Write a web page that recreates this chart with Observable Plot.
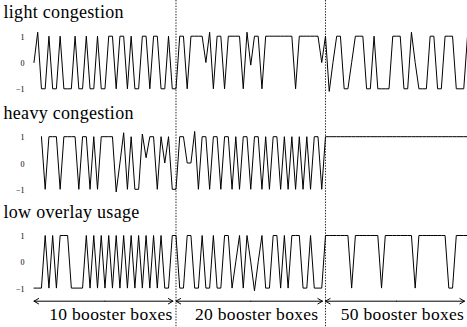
<!DOCTYPE html>
<html><head><meta charset="utf-8">
<script src="https://cdn.jsdelivr.net/npm/d3@7"></script>
<script src="https://cdn.jsdelivr.net/npm/@observablehq/plot@0.6"></script>
<style>
body{margin:0;background:#fff;}
#chart svg{display:block;}
#chart svg, #chart svg text{font-family:"Liberation Serif","Times New Roman","DejaVu Serif",serif !important;}
#chart svg g[aria-label="text"] text{letter-spacing:0.3px;}
</style>
</head><body><div id="chart"></div>
<script>
const panelTitles = ["light congestion", "heavy congestion", "low overlay usage"];
const yTickValues = [1, 0, -1];
const yTickLabels = ["1", "0", "\u22121"];
const phaseBounds = [2, 40, 80, 118];
const phaseLabels = ["10 booster boxes", "20 booster boxes", "50 booster boxes"];

const lightStart = 2;
const lightValues = [
  0, 1.15, -1, -1, 1, -1, -1, 1, -1, -1, -1, 1, -1, -1, 1, -1, -1, 1, -1, -1, 1, 1, -1, 1, 1, -1, 1, -1, -1, 1, 1, -1, 1, 1, -1, -1, 1, -1, -1,
  1, 1, -1, 1, 1, 1, 1, 0, 1.15, -1, 1, 1, -1, 1, 1, 1, 1, -1, 1.15, -0.1, 1, 1, -1, 1, 1, 1, 1, 1, 1, 1, 1, -1, 1, 1, 1, 1, 1, 1, 0, 1,
  -1.1, 0, 1, 1, -1, -1, 0, 1, 1, 1, -1, -1, 1, -1, -1, -1, -1, 1, 1, 1, -1, -1, 1.15, 0, -1, -1, -1, 1, 1, -1, -1, 1, 1, 1, -1, -1, -1, 1
];
const heavyStart = 4;
const heavyValues = [
  1, -1, 1, 1, 1, -1, 1, 1, 1, 1, -1, 1, 1, -1, 1, -1, 1, 1, 1, 1, -1.1, 0, 1.15, -1, 1, -1, -1, 1.1, 0.2, 1, 1, -1, 1, 0, 1, -1, -1,
  1, 1, 0, 0, 1.2, -1, 1, 1, -1, 1, 1, -1, 1, 1, -1, 1, -1, 1, 1, -1, 1, 1, -1, 1, -1, 1, 1, -1, 1, -1, 1, -1, 1, -1, 1, -1, 1, 1, -1, 1,
  1, 1, 1, 1, 1, 1, 1, 1, 1, 1, 1, 1, 1, 1, 1, 1, 1, 1, 1, 1, 1, 1, 1, 1, 1, 1, 1, 1, 1, 1, 1, 1, 1, 1, 1, 1, 1, 1
];
const lowStart = 2;
const lowValues = [
  -1, -1, -1, 1, -1, 1, -1, 1, 1, 1, -1, -1, -1, -1, 1, -1, 1, -1, 1, -1, 1, -1, 1, -1, 1, -1, 1, -1, 1, -1, 1, -1, 1, -1, 1, -1, -1, 1, 1,
  -1, -1, 1, 1, -1, -1, 1, -1, -1, 1, -1, -1, 1, 1, -1, 0, 1, -1, 1, 0, -1.1, 0, 1, -1, -1, 1, 1, -1, 1, -1, 1, 1, 1, -1, -1, 1, -1, -1, -1, 1,
  1, 1, 1, 1, 1, 1, -1, 1, 1, 1, 1, 1, 1, 1, -1, 1, 1, 1, 1, 1, 1, 1, 1, -1, 1, 1, 1, 1, 1, 1, 1, 1, -1, -1, 1, 1, 1, 1
];

// layout
const W = 467, H = 327;
const unit = 26.3;                       // px per y unit
const panelCenters = [62, 162.5, 261.3]; // px of the zero line of each panel
const arrowRow = 300.7, labelRow = 319;
const toY = px => -(px - panelCenters[0]) / unit;
const offsets = panelCenters.map(toY);
const yTop = panelCenters[0] / unit;

const series = [lightValues, heavyValues, lowValues];
const starts = [lightStart, heavyStart, lowStart];
const points = series.flatMap((vals, k) =>
  vals.map((v, i) => ({panel: k, step: starts[k] + i, y: v + offsets[k]})));

const ticks = offsets.flatMap(o => yTickValues.map((v, i) => ({y: v + o, label: yTickLabels[i]})));
const tickLabel = new Map(ticks.map(t => [t.y.toFixed(4), t.label]));

const titles = panelTitles.map((t, k) => ({t, y: 1 + offsets[k]}));

const phases = phaseLabels.map((label, k) => ({
  label, a: phaseBounds[k], b: phaseBounds[k + 1], mid: (phaseBounds[k] + phaseBounds[k + 1]) / 2
}));
const aY = toY(arrowRow), lY = toY(labelRow);

const serif = "Liberation Serif";

const chart = Plot.plot({
  width: W, height: H,
  marginLeft: 26, marginRight: 0, marginTop: 0, marginBottom: 0,
  style: {background: "white", color: "black"},
  x: {domain: [0, 118], axis: null},
  y: {domain: [yTop - H / unit, yTop], axis: null},
  marks: [
    Plot.ruleX(phaseBounds.slice(1, 3), {stroke: "#222", strokeWidth: 1, strokeDasharray: "1.4,1.4"}),
    Plot.line(points, {x: "step", y: "y", z: "panel", stroke: "black", strokeWidth: 1, strokeLinejoin: "miter", strokeMiterlimit: 3}),
    Plot.axisY(ticks.map(t => t.y), {anchor: "left", tickSize: 0, tickPadding: 2, label: null,
      tickFormat: d => tickLabel.get(d.toFixed(4)), fontSize: 8, dy: 1, fontFamily: serif}),
    Plot.text(titles, {y: "y", text: "t", frameAnchor: "left", textAnchor: "start", lineAnchor: "bottom",
      dx: -23, dy: -18, fontSize: 18, fontFamily: serif}),
    Plot.arrow(phases, {x1: "mid", x2: "a", y: aY, stroke: "black", strokeWidth: 1, headLength: 8, insetEnd: 0}),
    Plot.arrow(phases, {x1: "mid", x2: "b", y: aY, stroke: "black", strokeWidth: 1, headLength: 8, insetEnd: 3}),
    Plot.text(phases, {x: "mid", y: lY, text: "label", textAnchor: "middle", lineAnchor: "bottom", dx: 6, fontSize: 17.5, fontFamily: serif})
  ]
});
document.getElementById("chart").appendChild(chart);
</script>
</body></html>
